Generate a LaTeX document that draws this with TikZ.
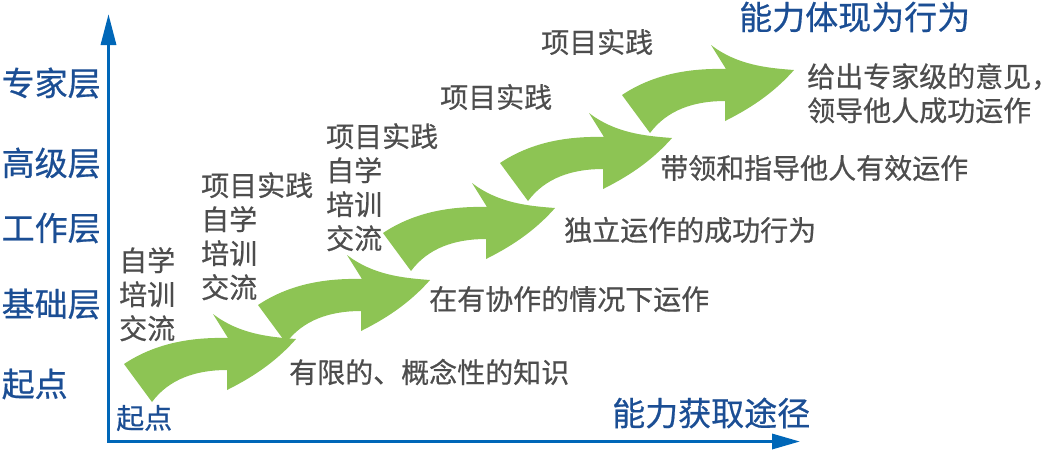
\documentclass[tikz,border=0pt]{standalone}
\usepackage{fontspec}
\newfontfamily\cjk[FakeBold=0.6]{Noto Sans CJK SC}
\usetikzlibrary{arrows.meta}
\definecolor{axisblue}{RGB}{0,103,184}
\definecolor{labelblue}{RGB}{27,78,148}
\definecolor{textgray}{RGB}{77,77,77}
\definecolor{stepgreen}{RGB}{141,196,84}

\begin{document}
\begin{tikzpicture}[x=1pt, y=-1pt,
    level/.style={anchor=west, inner sep=0pt, text=labelblue, font=\fontsize{33}{38}\cjk},
    note/.style={anchor=west, inner sep=0pt, text=textgray, font=\fontsize{28}{34}\cjk, align=left},
    axis/.style={axisblue, line width=3.3pt, {Triangle[length=31pt,width=15pt]}-{Triangle[length=28pt,width=15pt]}}]
  \useasboundingbox (0,0) rectangle (1062,451);

  % axes
  \coordinate (ytop) at (108.5,14);
  \coordinate (o) at (108.5,441.5);
  \coordinate (xend) at (800,441.5);
  \draw[axis] (ytop) -- (o) -- (xend);

  % green steps
  \foreach \x/\y in {124/364, 258/305, 383/233, 500/163, 622/95}
    \fill[stepgreen, shift={(\x,\y)}] (0,0) .. controls (30,-20) and (65,-27) .. (104,-26)
      -- (89,-50) .. controls (115,-30) and (145,-27) .. (172,-25)
      .. controls (150,0) and (125,15) .. (103,26)
      -- (103,6) .. controls (72,6) and (45,15) .. (28,38) -- cycle;

  \node[level] (expert) at (1.5,83) {专家层};
  \node[level] (senior) at (1.5,163) {高级层};
  \node[level] (work) at (1.5,228) {工作层};
  \node[level] (basic) at (1.5,304) {基础层};
  \node[level] (start) at (1.5,384) {起点};
  \node[level, font=\fontsize{28}{34}\cjk] (origin) at (116,418) {起点};
  \node[level] (result) at (739,17) {能力体现为行为};
  \node[level] (way) at (612,413) {能力获取途径};

  \node[note, anchor=north west] (learn1) at (119,247) {自学\\培训\\交流};
  \node[note, anchor=north west] (learn2) at (201,172) {项目实践\\自学\\培训\\交流};
  \node[note, anchor=north west] (learn3) at (326,123) {项目实践\\自学\\培训\\交流};
  \node[note] (practice4) at (440,97) {项目实践};
  \node[note] (practice5) at (541,42) {项目实践};

  \node[note] (limited) at (289,372) {有限的、概念性的知识};
  \node[note] (cooperate) at (429,299) {在有协作的情况下运作};
  \node[note] (alone) at (564,230) {独立运作的成功行为};
  \node[note] (lead) at (660,168) {带领和指导他人有效运作};
  \node[note, anchor=north west] (expertise) at (807,63) {给出专家级的意见，\\领导他人成功运作};
\end{tikzpicture}
\end{document}
